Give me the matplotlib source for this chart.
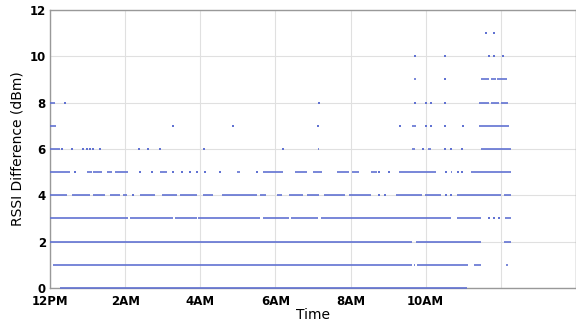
import matplotlib
matplotlib.use("Agg")
import matplotlib.pyplot as plt

# RSSI difference levels (dBm) and the time segments (hours after 12PM) holding samples
# (start, end) pairs; a pair with start == end is a single sample
segs_y0 = [(0.27, 11.10)]
segs_y1 = [(0.08, 9.64), (9.70, 9.72), (9.77, 11.13), (11.29, 11.47), (12.14, 12.19)]
segs_y2 = [(0.0, 9.64), (9.75, 11.47), (12.08, 12.27)]
segs_y3 = [(0.0, 2.07), (2.12, 3.27), (3.32, 3.90), (3.95, 5.58), (5.66, 6.37),
           (6.42, 7.14), (7.22, 10.68), (10.84, 11.47), (11.69, 11.69),
           (11.82, 11.82), (11.95, 11.95), (12.11, 12.27)]
segs_y4 = [(0.0, 0.45), (0.58, 1.06), (1.14, 1.46), (1.59, 1.86), (1.94, 2.04),
           (2.20, 2.20), (2.39, 2.79), (2.97, 3.37), (3.45, 3.90), (4.06, 4.33),
           (4.57, 5.50), (5.58, 5.76), (6.03, 6.16), (6.37, 6.72), (6.83, 7.17),
           (7.30, 7.85), (7.95, 8.55), (8.76, 8.76), (8.92, 8.92), (9.22, 9.90),
           (9.97, 10.41), (10.54, 10.54), (10.68, 10.68), (10.84, 12.01), (12.08, 12.27)]
segs_y5 = [(0.0, 0.53), (0.66, 0.66), (0.98, 1.12), (1.14, 1.38), (1.51, 1.65),
           (1.73, 2.07), (2.39, 2.39), (2.71, 2.71), (2.92, 3.11), (3.27, 3.27),
           (3.51, 3.51), (3.72, 3.72), (3.90, 3.90), (4.12, 4.12), (4.52, 4.52),
           (4.97, 5.05), (5.50, 5.50), (5.66, 6.19), (6.51, 6.83), (6.99, 7.25),
           (7.65, 7.97), (8.05, 8.23), (8.55, 8.69), (8.76, 8.76), (9.03, 9.03),
           (9.30, 10.28), (10.54, 10.54), (10.68, 10.70), (10.85, 10.85),
           (10.97, 10.97), (11.21, 12.27)]
segs_y6 = [(0.0, 0.27), (0.32, 0.32), (0.58, 0.58), (0.88, 0.88), (0.98, 0.98),
           (1.06, 1.06), (1.14, 1.14), (1.33, 1.33), (2.36, 2.36), (2.60, 2.60),
           (2.92, 2.92), (4.09, 4.09), (6.19, 6.19), (7.14, 7.17), (9.64, 9.72),
           (9.92, 9.92), (10.05, 10.15), (10.52, 10.52), (10.68, 10.68),
           (10.97, 10.97), (11.47, 12.27)]
segs_y7 = [(0.0, 0.16), (3.27, 3.27), (4.86, 4.86), (7.14, 7.14), (9.32, 9.32),
           (9.64, 9.75), (10.01, 10.01), (10.15, 10.15), (10.52, 10.52),
           (11.00, 11.00), (11.42, 12.22)]
segs_y8 = [(0.0, 0.13), (0.40, 0.40), (7.17, 7.17), (9.72, 9.72), (10.01, 10.01),
           (10.15, 10.15), (10.52, 10.52), (11.42, 11.69), (11.74, 11.95), (12.01, 12.19)]
segs_y9 = [(9.69, 9.75), (10.52, 10.52), (11.47, 11.69), (11.74, 11.87), (11.90, 12.16)]
segs_y10 = [(9.72, 9.72), (10.52, 10.52), (11.69, 11.69), (11.82, 11.82), (12.06, 12.06)]
segs_y11 = [(11.61, 11.61), (11.82, 11.82)]

rows = {0: segs_y0, 1: segs_y1, 2: segs_y2, 3: segs_y3, 4: segs_y4, 5: segs_y5,
        6: segs_y6, 7: segs_y7, 8: segs_y8, 9: segs_y9, 10: segs_y10, 11: segs_y11}

xtick_pos = [0, 2, 4, 6, 8, 10, 12, 14]
xtick_labels = ["12PM", "2AM", "4AM", "6AM", "8AM", "10AM", "", ""]
ytick_pos = [0, 2, 4, 6, 8, 10, 12]

fig = plt.figure(figsize=(5.76, 3.28), dpi=100)
ax = fig.add_axes([0.087, 0.122, 0.913, 0.848])

dot_color = "#6172d2"
for level, segs in rows.items():
    runs = [(s, e) for s, e in segs if e > s]
    singles = [s for s, e in segs if e == s]
    if runs:
        ax.hlines([level] * len(runs), [s for s, e in runs], [e for s, e in runs],
                  colors=dot_color, linewidth=1.2, zorder=3, clip_on=False)
    if singles:
        ax.scatter(singles, [level] * len(singles), s=3, marker="s",
                   color=dot_color, linewidths=0, zorder=3)

ax.set_xlim(0, 14)
ax.set_ylim(0, 12)
ax.set_xticks(xtick_pos)
ax.set_xticklabels(xtick_labels, fontweight="bold", fontsize=8.5)
ax.set_yticks(ytick_pos)
ax.set_yticklabels([str(v) for v in ytick_pos], fontweight="bold", fontsize=8.5)
ax.tick_params(axis="x", length=0, pad=5)
ax.tick_params(axis="y", length=0, pad=3)
ax.grid(True, color="#e0e0e0", linewidth=0.8, zorder=0)
ax.set_axisbelow(True)
for sp in ax.spines.values():
    sp.set_color("#999999")
    sp.set_linewidth(1.0)

ax.set_xlabel("Time", fontsize=10, labelpad=0)
ax.set_ylabel("RSSI Difference (dBm)", fontsize=10, labelpad=4)

plt.savefig("out.png", dpi=100)
